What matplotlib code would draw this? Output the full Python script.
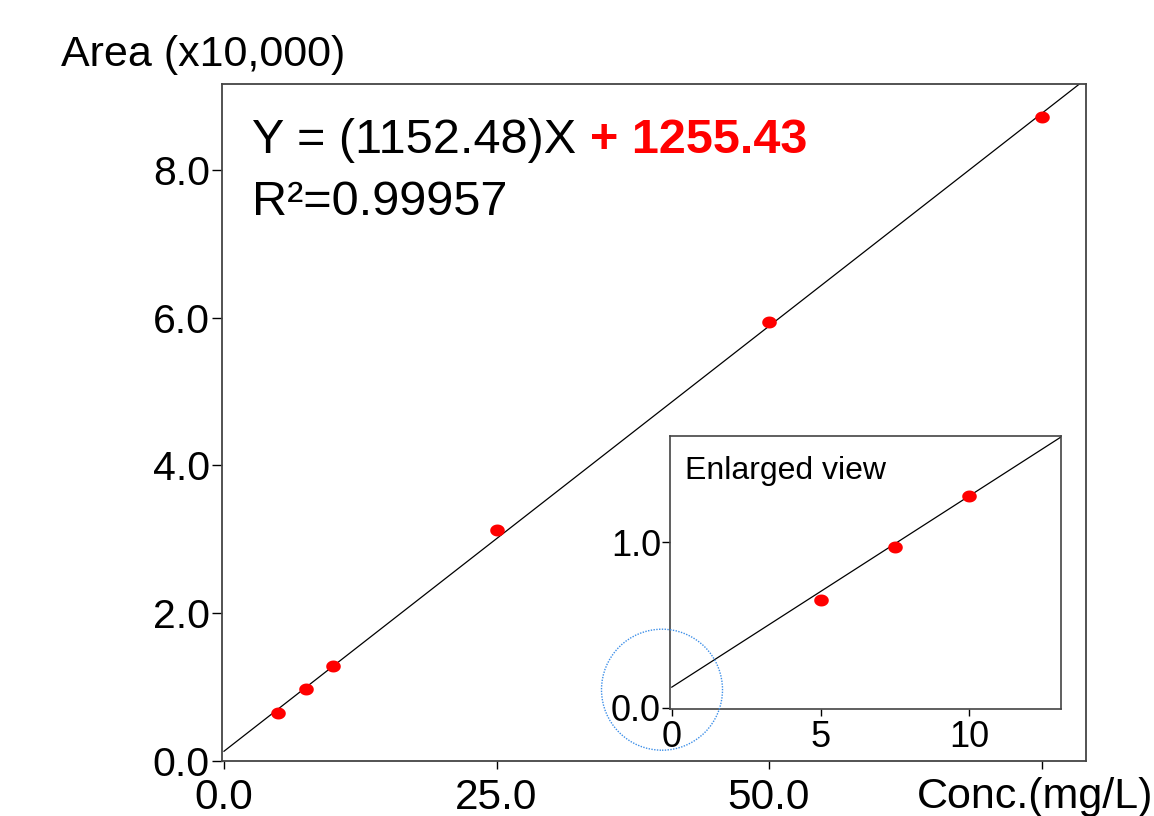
import numpy as np
import matplotlib
matplotlib.use("Agg")
import matplotlib.pyplot as plt
from matplotlib.path import Path
from matplotlib.patches import Ellipse

plt.rcParams['font.family'] = ['Liberation Sans', 'DejaVu Sans']

# calibration data (area in units of 10,000)
conc = np.array([5, 7.5, 10, 25, 50, 75])
area = np.array([0.65, 0.97, 1.28, 3.13, 5.95, 8.72])
slope = 1152.48
intercept = 1255.43
r2 = 0.99957

main_xticks = [0, 25, 50, 75]
main_xlabels = ["0.0", "25.0", "50.0", ""]
main_yticks = [0, 2, 4, 6, 8]
main_ylabels = ["0.0", "2.0", "4.0", "6.0", "8.0"]
inset_xticks = [0, 5, 10]
inset_xlabels = ["0", "5", "10"]
inset_yticks = [0, 1]
inset_ylabels = ["0.0", "1.0"]

line_x = np.array([0, 80])
line_y = (slope * line_x + intercept) / 10000

# slightly wide ellipse marker
t = np.linspace(0, 2 * np.pi, 40)
ell = Path(np.column_stack([np.cos(t), 0.82 * np.sin(t)]))

W, H = 1154, 816
fig = plt.figure(figsize=(W / 100, H / 100), dpi=100)

spine_col = '#444444'

# main axes
ax = fig.add_axes([221.7 / W, 1 - 760.5 / H, (1086 - 221.7) / W, (760.5 - 84) / H])
ax.plot(line_x, line_y, color='black', lw=0.9, zorder=2)
ax.plot(conc, area, linestyle='none', marker=ell, markersize=10.5,
        color='#ff0000', markeredgewidth=0, zorder=3)
ax.set_xlim(-0.21, 79.08)
ax.set_ylim(0, 9.17)
ax.set_xticks(main_xticks)
ax.set_xticklabels(main_xlabels)
ax.set_yticks(main_yticks)
ax.set_yticklabels(main_ylabels)
ax.tick_params(axis='x', direction='out', length=6, width=1, pad=6.5, labelsize=30.5)
ax.tick_params(axis='y', direction='out', length=7.5, width=1, pad=1, labelsize=29.5)
for s in ax.spines.values():
    s.set_color(spine_col)
    s.set_linewidth(1.3)

t1 = ax.text(0.035, 0.898, "Y = (1152.48)X ", transform=ax.transAxes,
             fontsize=35, va='baseline', ha='left')
ax.annotate("+ 1255.43", xy=(1, 0), xycoords=t1, va='bottom', ha='left',
            fontsize=35, fontweight='bold', color='#ff0000')
ax.text(0.035, 0.806, "R²=%.5f" % r2, transform=ax.transAxes,
        fontsize=35, va='baseline', ha='left')

fig.text(61 / W, 1 - 66 / H, "Area (x10,000)", fontsize=31, va='baseline', ha='left')
fig.text(917 / W, 1 - 808 / H, "Conc.(mg/L)", fontsize=31, va='baseline', ha='left')

# inset (enlarged view)
ins = fig.add_axes([670 / W, 1 - 709.3 / H, (1060.7 - 670) / W, (709.3 - 436) / H])
sel = conc <= 13
ins.plot(line_x, line_y, color='black', lw=0.9, zorder=2)
ins.plot(conc[sel], area[sel], linestyle='none', marker=ell, markersize=10.5,
         color='#ff0000', markeredgewidth=0, zorder=3)
ins.set_xlim(-0.06, 13.07)
ins.set_ylim(-0.008, 1.639)
ins.set_xticks(inset_xticks)
ins.set_xticklabels(inset_xlabels)
ins.set_yticks(inset_yticks)
ins.set_yticklabels(inset_ylabels)
ins.tick_params(axis='x', direction='out', length=5, width=1, pad=2.5, labelsize=26)
ins.tick_params(axis='y', direction='out', length=6, width=1, pad=0.5, labelsize=26)
for s in ins.spines.values():
    s.set_color(spine_col)
    s.set_linewidth(1.2)
ins.text(0.038, 0.843, "Enlarged view", transform=ins.transAxes,
         fontsize=23, va='baseline', ha='left')

# dotted blue circle around the origin of the inset
circ = Ellipse((662 / W, 1 - 689.7 / H), 121 / W, 121 / H, transform=fig.transFigure,
               fill=False, edgecolor='#3d8fe8', linestyle=(0, (1, 1)), lw=1.0, zorder=10)
fig.add_artist(circ)

fig.savefig("out.png", dpi=100)
